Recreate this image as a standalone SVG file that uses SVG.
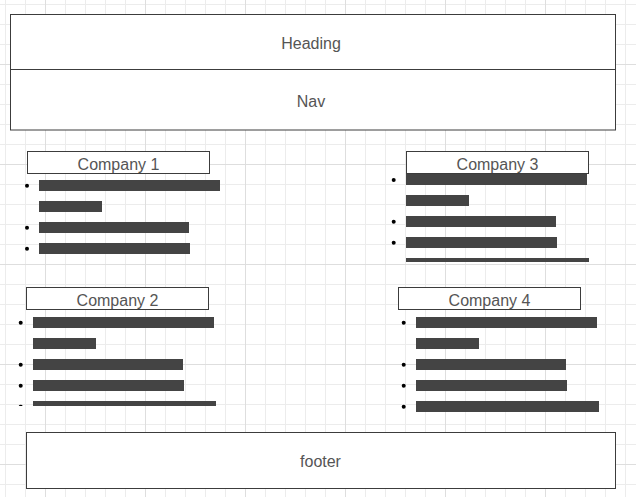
<svg xmlns="http://www.w3.org/2000/svg" width="636" height="497" viewBox="0 0 636 497">
<defs>
<style>
.minor{stroke:#ececec;stroke-width:1;fill:none}
.major{stroke:#dedede;stroke-width:1;fill:none}
.box{fill:#ffffff;stroke:#3c3c3c;stroke-width:1}
.lbl{font-family:"Liberation Sans",Arial,sans-serif;font-size:16px;fill:#555555;text-anchor:middle}
.bar{fill:#444444}
.dot{fill:#000000}
</style>
<clipPath id="clip3"><rect x="380" y="170" width="230" height="92"/></clipPath>
<clipPath id="clip2"><rect x="0" y="310" width="230" height="96"/></clipPath>
</defs>
<rect x="0" y="0" width="636" height="497" fill="#ffffff"/>
<g id="grid">
<path class="minor" d="M5.5 0V497M25.5 0V497M65.5 0V497M85.5 0V497M105.5 0V497M125.5 0V497M165.5 0V497M185.5 0V497M205.5 0V497M225.5 0V497M265.5 0V497M285.5 0V497M305.5 0V497M325.5 0V497M365.5 0V497M385.5 0V497M405.5 0V497M425.5 0V497M465.5 0V497M485.5 0V497M505.5 0V497M525.5 0V497M565.5 0V497M585.5 0V497M605.5 0V497M625.5 0V497"/>
<path class="minor" d="M0 4.5H636M0 24.5H636M0 44.5H636M0 84.5H636M0 104.5H636M0 124.5H636M0 144.5H636M0 184.5H636M0 204.5H636M0 224.5H636M0 244.5H636M0 284.5H636M0 304.5H636M0 324.5H636M0 344.5H636M0 384.5H636M0 404.5H636M0 424.5H636M0 444.5H636M0 484.5H636"/>
<path class="major" d="M45.5 0V497M145.5 0V497M245.5 0V497M345.5 0V497M445.5 0V497M545.5 0V497M0 64.5H636M0 164.5H636M0 264.5H636M0 364.5H636M0 464.5H636"/>
</g>
<g id="heading">
<rect class="box" x="10.5" y="14.5" width="605" height="55"/>
<text class="lbl" x="311" y="49">Heading</text>
</g>
<g id="nav">
<rect class="box" x="10.5" y="69.5" width="605" height="60.5"/>
<text class="lbl" x="311" y="107">Nav</text>
</g>
<g id="company1">
<rect class="box" x="27.5" y="151.5" width="182" height="22"/>
<text class="lbl" x="118.5" y="169.5">Company 1</text>
<rect class="bar" x="39" y="180" width="181" height="11"/>
<rect class="bar" x="39" y="201" width="63" height="11"/>
<rect class="bar" x="39" y="222" width="150" height="11"/>
<rect class="bar" x="39" y="243" width="151" height="11"/>
<circle class="dot" cx="27" cy="185.7" r="2"/>
<circle class="dot" cx="27" cy="227.7" r="2"/>
<circle class="dot" cx="27" cy="248.7" r="2"/>
</g>
<g id="company3">
<g clip-path="url(#clip3)">
<rect class="bar" x="406" y="174" width="181" height="11"/>
<rect class="bar" x="406" y="195" width="63" height="11"/>
<rect class="bar" x="406" y="216" width="150" height="11"/>
<rect class="bar" x="406" y="237" width="151" height="11"/>
<rect class="bar" x="406" y="258" width="183" height="11"/>
<circle class="dot" cx="393.7" cy="180" r="2"/>
<circle class="dot" cx="393.7" cy="221.7" r="2"/>
<circle class="dot" cx="393.7" cy="242.7" r="2"/>
</g>
<rect class="box" x="406.5" y="151.5" width="182" height="22"/>
<text class="lbl" x="497.5" y="169.5">Company 3</text>
</g>
<g id="company2">
<rect class="box" x="26.5" y="287.5" width="182" height="22"/>
<text class="lbl" x="117.5" y="305.5">Company 2</text>
<g clip-path="url(#clip2)">
<rect class="bar" x="33" y="317" width="181" height="11"/>
<rect class="bar" x="33" y="338" width="63" height="11"/>
<rect class="bar" x="33" y="359" width="150" height="11"/>
<rect class="bar" x="33" y="380" width="151" height="11"/>
<rect class="bar" x="33" y="401" width="183" height="11"/>
<circle class="dot" cx="20.7" cy="322.7" r="2"/>
<circle class="dot" cx="20.7" cy="364.7" r="2"/>
<circle class="dot" cx="20.7" cy="385.7" r="2"/>
<circle class="dot" cx="20.7" cy="406.7" r="2"/>
</g>
</g>
<g id="company4">
<rect class="box" x="398.5" y="287.5" width="182" height="22"/>
<text class="lbl" x="489.5" y="305.5">Company 4</text>
<rect class="bar" x="416" y="317" width="181" height="11"/>
<rect class="bar" x="416" y="338" width="63" height="11"/>
<rect class="bar" x="416" y="359" width="150" height="11"/>
<rect class="bar" x="416" y="380" width="151" height="11"/>
<rect class="bar" x="416" y="401" width="183" height="11"/>
<circle class="dot" cx="403.7" cy="322.7" r="2"/>
<circle class="dot" cx="403.7" cy="364.7" r="2"/>
<circle class="dot" cx="403.7" cy="385.7" r="2"/>
<circle class="dot" cx="403.7" cy="406.7" r="2"/>
</g>
<g id="footer">
<rect class="box" x="26.5" y="432.5" width="589" height="56"/>
<text class="lbl" x="320.5" y="466.5">footer</text>
</g>
<g id="connectors"/>
</svg>
